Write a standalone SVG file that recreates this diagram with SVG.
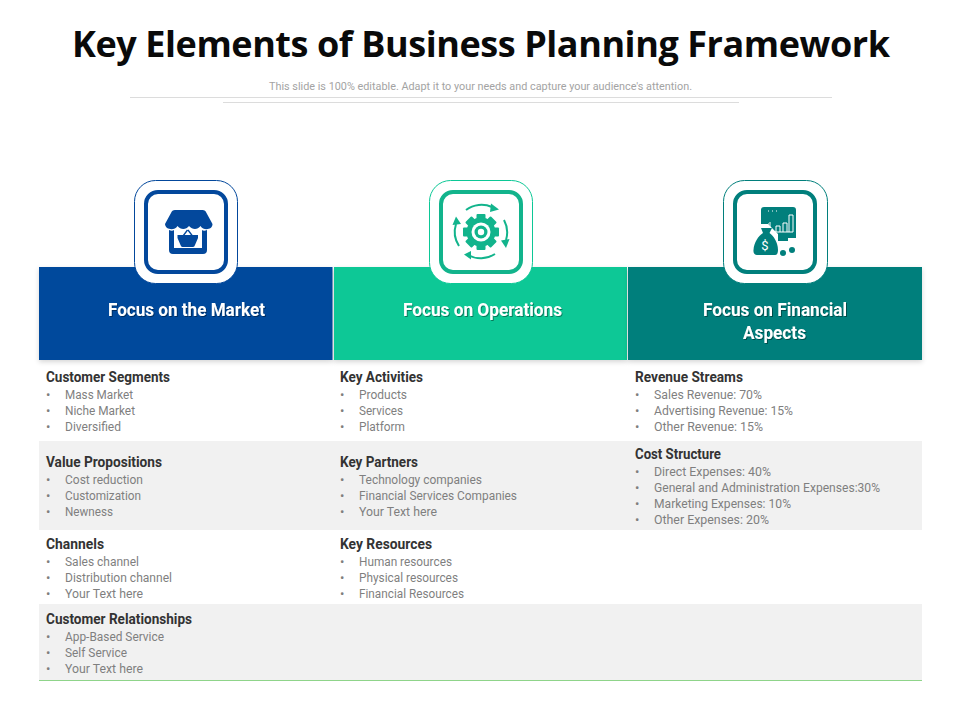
<svg xmlns="http://www.w3.org/2000/svg" width="960" height="720" viewBox="0 0 960 720">
<defs>
<filter id="sh" x="-5%" y="-10%" width="110%" height="125%"><feDropShadow dx="0" dy="2" stdDeviation="2.500" flood-color="#000" flood-opacity=".16"/></filter>
<filter id="ts" x="-5%" y="-20%" width="110%" height="150%"><feDropShadow dx="1" dy="1" stdDeviation=".6" flood-color="#000" flood-opacity=".4"/></filter>
</defs>
<style>
text{font-family:Roboto,"Liberation Sans",Arial,sans-serif}
.title{font-family:"Open Sans","Liberation Sans",sans-serif;font-weight:700;font-size:36px;fill:#0a0a0a}
.sub{font-size:11.5px;fill:#a3a3a3}
.hd{font-weight:700;font-size:18.500px;fill:#fff}
.h{font-weight:700;font-size:14px;fill:#333}
.i{font-size:12.500px;fill:#7f7f7f}
.b{font-size:13px;fill:#7f7f7f}
.tile{fill:#fff}
</style>
<rect width="960" height="720" fill="#fff"/>
<text class="title" x="72" y="57" textLength="818" lengthAdjust="spacing">Key Elements of Business Planning Framework</text>
<text class="sub" x="269" y="90" textLength="423" lengthAdjust="spacingAndGlyphs">This slide is 100% editable. Adapt it to your needs and capture your audience's attention.</text>
<g id="rules" stroke="#dcdcdc" stroke-width="1"><line x1="130" y1="97.500" x2="832" y2="97.500"/><line x1="223" y1="102.500" x2="739" y2="102.500"/></g>

<g id="bands">
<rect x="39" y="441" width="883" height="89" fill="#f1f1f1"/>
<rect x="39" y="604" width="883" height="76" fill="#f1f1f1"/>
<line x1="39" y1="680.500" x2="922" y2="680.500" stroke="#8fd48a" stroke-width="1"/>
</g>

<g id="node-market">
<rect x="39" y="267" width="293.500" height="93" fill="#03489c" filter="url(#sh)"/>
<rect class="tile" x="134.500" y="180.500" width="103" height="103" rx="21" stroke="#03489c" stroke-width="1"/>
<rect x="146" y="192" width="80" height="80" rx="12" fill="none" stroke="#03489c" stroke-width="4"/>
<g transform="translate(1.500 0)">
<path fill="#03489c" d="M171 210h30q3 0 4 3l6 11c0 6-9 7-12 2-3 4-8 4-11.500 0-3 4-8.500 4-11.500 0-3 5-12 4-12.500-2l6-11q1-3 4-3z"/>
<path fill="#03489c" d="M167.500 230c2 1 4 1 5 0v18h28v-18c1 1 3 1 5 0v20q0 4-4 4h-30q-4 0-4-4z"/>
<path fill="#03489c" d="M176 235h20.500v3l-3 7q-.5 2-2 2h-10.500q-1.500 0-2-2l-3-7z"/>
<path fill="none" stroke="#03489c" stroke-width="1.300" d="M181.500 236l4.500-6M191 236l-4.500-6"/>
</g>
<text class="hd" x="108" y="316" textLength="157" lengthAdjust="spacingAndGlyphs" filter="url(#ts)">Focus on the Market</text>
</g>

<g id="node-operations">
<rect x="334" y="267" width="293" height="93" fill="#0cc896" filter="url(#sh)"/>
<rect class="tile" x="429.500" y="180.500" width="103" height="103" rx="21" stroke="#0cc896" stroke-width="1"/>
<rect x="441" y="192" width="80" height="80" rx="12" fill="none" stroke="#12b48c" stroke-width="4"/>
<g fill="#12b48c">
<circle cx="481" cy="232" r="14.500"/>
<g><rect x="476.500" y="214" width="9" height="36" rx="1"/><rect x="476.500" y="214" width="9" height="36" rx="1" transform="rotate(45 481 232)"/><rect x="476.500" y="214" width="9" height="36" rx="1" transform="rotate(90 481 232)"/><rect x="476.500" y="214" width="9" height="36" rx="1" transform="rotate(135 481 232)"/></g>
</g>
<circle cx="481" cy="232" r="9.500" fill="#fff"/><circle cx="481" cy="232" r="6.500" fill="#12b48c"/><circle cx="481" cy="232" r="3.200" fill="#fff"/>
<g fill="none" stroke="#12b48c" stroke-width="2">
<path d="M466 210a26 26 0 0 1 26-3"/><path d="M504 220a26 26 0 0 1 2 20"/><path d="M495 254a26 26 0 0 1-27 1"/><path d="M459 246a26 26 0 0 1-3-22"/>
</g>
<g fill="#12b48c"><path d="M491 203.500l8 6-9 2.500z"/><path d="M509.500 239l-3.500 9-5-7.500z"/><path d="M471 251l-7 3.500 7 5z"/><path d="M452.500 225l3.500-8.500 5 7.500z"/></g>
<text class="hd" x="403" y="316" textLength="159" lengthAdjust="spacingAndGlyphs" filter="url(#ts)">Focus on Operations</text>
</g>

<g id="node-financial">
<rect x="628" y="267" width="294" height="93" fill="#017f7c" filter="url(#sh)"/>
<rect class="tile" x="723.500" y="180.500" width="104" height="103" rx="21" stroke="#017f7c" stroke-width="1"/>
<rect x="735" y="192" width="80" height="80" rx="12" fill="none" stroke="#017f7c" stroke-width="4"/>
<path fill="#017f7c" d="M764 207h29q3 0 3 3v28h-18v-4l-6-6-4-4h-7v-14q0-3 3-3z"/>
<path fill="#017f7c" d="M778 238h10v3h-10z"/>
<g fill="none" stroke="#fff" stroke-width="1"><path d="M769 224h-1M770 232v-10M776 232v-6h4v6M783 232v-9h4v9M789 232v-17h4v17M769 232h24M768 211h1M772 211h1M776 211h1"/></g>
<path fill="#017f7c" d="M761 228h11l-2.500 5c4 3 8.500 9 8.500 17 0 3-1 5-3 5h-18c-2 0-4-2-3.500-5 .5-8 5-14 9.500-17z"/>
<text x="765" y="250" font-size="13" fill="#fff" text-anchor="middle" font-family="Liberation Sans">$</text>
<circle cx="783" cy="253" r="3" fill="#017f7c"/><circle cx="792" cy="250" r="3" fill="#017f7c"/>
<text class="hd" x="703" y="316" textLength="144" lengthAdjust="spacingAndGlyphs" filter="url(#ts)">Focus on Financial</text>
<text class="hd" x="743" y="339" textLength="63" lengthAdjust="spacingAndGlyphs" filter="url(#ts)">Aspects</text>
</g>

<g id="col-1">
<text class="h" x="46" y="382" textLength="124" lengthAdjust="spacingAndGlyphs">Customer Segments</text>
<text class="b" x="46" y="398.500">•</text><text class="i" x="65" y="398.500" textLength="68" lengthAdjust="spacingAndGlyphs">Mass Market</text>
<text class="b" x="46" y="414.500">•</text><text class="i" x="65" y="414.500" textLength="70" lengthAdjust="spacingAndGlyphs">Niche Market</text>
<text class="b" x="46" y="430.500">•</text><text class="i" x="65" y="430.500" textLength="56" lengthAdjust="spacingAndGlyphs">Diversified</text>
<text class="h" x="46" y="467" textLength="116" lengthAdjust="spacingAndGlyphs">Value Propositions</text>
<text class="b" x="46" y="483.500">•</text><text class="i" x="65" y="483.500" textLength="78" lengthAdjust="spacingAndGlyphs">Cost reduction</text>
<text class="b" x="46" y="499.500">•</text><text class="i" x="65" y="499.500" textLength="76" lengthAdjust="spacingAndGlyphs">Customization</text>
<text class="b" x="46" y="515.500">•</text><text class="i" x="65" y="515.500" textLength="48" lengthAdjust="spacingAndGlyphs">Newness</text>
<text class="h" x="46" y="549" textLength="58" lengthAdjust="spacingAndGlyphs">Channels</text>
<text class="b" x="46" y="565.500">•</text><text class="i" x="65" y="565.500" textLength="74" lengthAdjust="spacingAndGlyphs">Sales channel</text>
<text class="b" x="46" y="581.500">•</text><text class="i" x="65" y="581.500" textLength="107" lengthAdjust="spacingAndGlyphs">Distribution channel</text>
<text class="b" x="46" y="597.500">•</text><text class="i" x="65" y="597.500" textLength="78" lengthAdjust="spacingAndGlyphs">Your Text here</text>
<text class="h" x="46" y="624" textLength="146" lengthAdjust="spacingAndGlyphs">Customer Relationships</text>
<text class="b" x="46" y="640.500">•</text><text class="i" x="65" y="640.500" textLength="99" lengthAdjust="spacingAndGlyphs">App-Based Service</text>
<text class="b" x="46" y="656.500">•</text><text class="i" x="65" y="656.500" textLength="62" lengthAdjust="spacingAndGlyphs">Self Service</text>
<text class="b" x="46" y="672.500">•</text><text class="i" x="65" y="672.500" textLength="78" lengthAdjust="spacingAndGlyphs">Your Text here</text>
</g>
<g id="col-2">
<text class="h" x="340" y="382" textLength="83" lengthAdjust="spacingAndGlyphs">Key Activities</text>
<text class="b" x="340" y="398.500">•</text><text class="i" x="359" y="398.500" textLength="48" lengthAdjust="spacingAndGlyphs">Products</text>
<text class="b" x="340" y="414.500">•</text><text class="i" x="359" y="414.500" textLength="44" lengthAdjust="spacingAndGlyphs">Services</text>
<text class="b" x="340" y="430.500">•</text><text class="i" x="359" y="430.500" textLength="46" lengthAdjust="spacingAndGlyphs">Platform</text>
<text class="h" x="340" y="467" textLength="78" lengthAdjust="spacingAndGlyphs">Key Partners</text>
<text class="b" x="340" y="483.500">•</text><text class="i" x="359" y="483.500" textLength="123" lengthAdjust="spacingAndGlyphs">Technology companies</text>
<text class="b" x="340" y="499.500">•</text><text class="i" x="359" y="499.500" textLength="158" lengthAdjust="spacingAndGlyphs">Financial Services Companies</text>
<text class="b" x="340" y="515.500">•</text><text class="i" x="359" y="515.500" textLength="78" lengthAdjust="spacingAndGlyphs">Your Text here</text>
<text class="h" x="340" y="549" textLength="92" lengthAdjust="spacingAndGlyphs">Key Resources</text>
<text class="b" x="340" y="565.500">•</text><text class="i" x="359" y="565.500" textLength="93" lengthAdjust="spacingAndGlyphs">Human resources</text>
<text class="b" x="340" y="581.500">•</text><text class="i" x="359" y="581.500" textLength="99" lengthAdjust="spacingAndGlyphs">Physical resources</text>
<text class="b" x="340" y="597.500">•</text><text class="i" x="359" y="597.500" textLength="105" lengthAdjust="spacingAndGlyphs">Financial Resources</text>
</g>
<g id="col-3">
<text class="h" x="635" y="382" textLength="108" lengthAdjust="spacingAndGlyphs">Revenue Streams</text>
<text class="b" x="635" y="398.500">•</text><text class="i" x="654" y="398.500" textLength="108" lengthAdjust="spacingAndGlyphs">Sales Revenue: 70%</text>
<text class="b" x="635" y="414.500">•</text><text class="i" x="654" y="414.500" textLength="139" lengthAdjust="spacingAndGlyphs">Advertising Revenue: 15%</text>
<text class="b" x="635" y="430.500">•</text><text class="i" x="654" y="430.500" textLength="109" lengthAdjust="spacingAndGlyphs">Other Revenue: 15%</text>
<text class="h" x="635" y="459" textLength="86" lengthAdjust="spacingAndGlyphs">Cost Structure</text>
<text class="b" x="635" y="475.500">•</text><text class="i" x="654" y="475.500" textLength="117" lengthAdjust="spacingAndGlyphs">Direct Expenses: 40%</text>
<text class="b" x="635" y="491.500">•</text><text class="i" x="654" y="491.500" textLength="226" lengthAdjust="spacingAndGlyphs">General and Administration Expenses:30%</text>
<text class="b" x="635" y="507.500">•</text><text class="i" x="654" y="507.500" textLength="137" lengthAdjust="spacingAndGlyphs">Marketing Expenses: 10%</text>
<text class="b" x="635" y="523.500">•</text><text class="i" x="654" y="523.500" textLength="115" lengthAdjust="spacingAndGlyphs">Other Expenses: 20%</text>
</g>
</svg>
